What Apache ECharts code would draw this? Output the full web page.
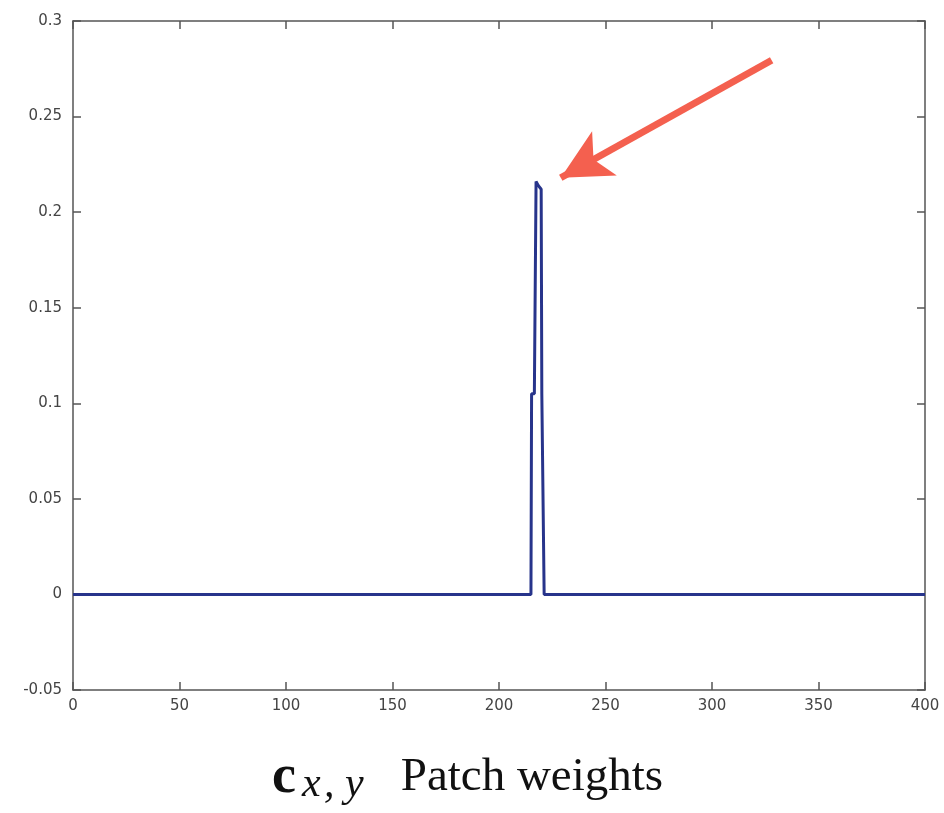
<!DOCTYPE html>
<html>
<head>
<meta charset="utf-8">
<style>
  html, body { margin: 0; padding: 0; background: #fff; }
  #chart { width: 944px; height: 813px; }
</style>
<script src="https://cdn.jsdelivr.net/npm/echarts@6/dist/echarts.min.js"></script>
</head>
<body>
<div id="chart"></div>
<script>
// patch index (x) and weight (y)
var patchX = [0, 215, 215.3, 216.6, 217.4, 218.4, 219.8, 220.1, 221.0, 221.2, 400];
var weight = [0, 0, 0.105, 0.105, 0.216, 0.214, 0.212, 0.105, 0.105, 0, 0];

var xTicks = [0, 50, 100, 150, 200, 250, 300, 350, 400];
var yTicks = [-0.05, 0, 0.05, 0.1, 0.15, 0.2, 0.25, 0.3];

// arrow annotation: tail and tip in data units
var arrowFrom = [328, 0.2795];
var arrowTo = [229, 0.218];

var points = patchX.map(function (x, i) { return [x, weight[i]]; });

var axisColor = "#555";
var labelStyle = { color: "#444", fontSize: 15, fontFamily: "DejaVu Sans" };

function fmt(v) {
  return String(Math.round(v * 100) / 100);
}

function axisBase(extra) {
  return Object.assign({
    type: "value",
    axisLine: { show: true, onZero: false, lineStyle: { color: axisColor, width: 1.5 } },
    axisTick: { show: true, inside: true, length: 8, lineStyle: { color: axisColor, width: 1.5 } },
    splitLine: { show: false }
  }, extra);
}

var chart = echarts.init(document.getElementById("chart"));
chart.setOption({
  backgroundColor: "#fff",
  animation: false,
  grid: { left: 73, right: 19, top: 21, bottom: 123 },
  title: {
    text: "{c|c}{s|x\u200a, y}{t|Patch weights}",
    left: 267,
    top: 745,
    textStyle: {
      fontWeight: "normal",
      rich: {
        c: { fontFamily: "Liberation Serif", fontWeight: "bold", fontSize: 54, color: "#111" },
        s: { fontFamily: "Liberation Serif", fontStyle: "italic", fontWeight: "normal", fontSize: 42, color: "#111", padding: [14, 0, 0, 6] },
        t: { fontFamily: "Liberation Serif", fontWeight: "normal", fontSize: 47, color: "#111", padding: [0, 0, 0, 37] }
      }
    }
  },
  xAxis: [
    axisBase({
      min: xTicks[0], max: xTicks[xTicks.length - 1], interval: 50,
      axisLabel: Object.assign({ margin: 9 }, labelStyle)
    }),
    axisBase({
      position: "top",
      min: xTicks[0], max: xTicks[xTicks.length - 1], interval: 50,
      axisLabel: { show: false }
    })
  ],
  yAxis: [
    axisBase({
      min: yTicks[0], max: yTicks[yTicks.length - 1], interval: 0.05,
      axisLabel: Object.assign({ margin: 11, formatter: fmt }, labelStyle)
    }),
    axisBase({
      position: "right",
      min: yTicks[0], max: yTicks[yTicks.length - 1], interval: 0.05,
      axisLabel: { show: false }
    })
  ],
  series: [
    {
      type: "line",
      data: points,
      showSymbol: false,
      lineStyle: { color: "#27348b", width: 3 },
      markLine: {
        silent: true,
        symbol: ["none", "arrow"],
        symbolSize: [38, 50],
        label: { show: false },
        lineStyle: { color: "#f4604f", width: 7, type: "solid" },
        data: [[
          { coord: arrowFrom },
          { coord: arrowTo }
        ]]
      }
    }
  ]
});
</script>
</body>
</html>
